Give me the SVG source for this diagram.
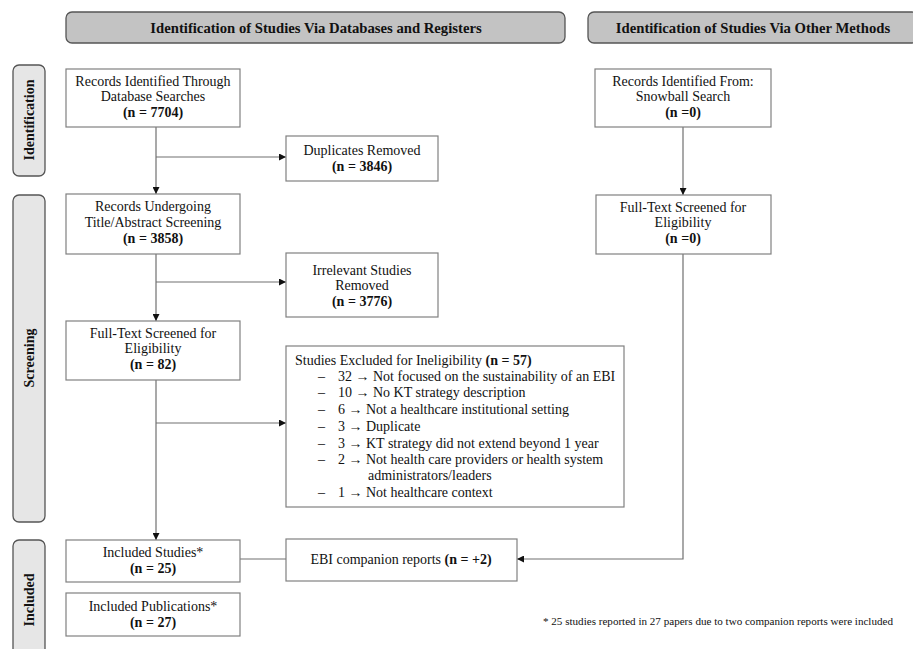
<svg xmlns="http://www.w3.org/2000/svg" width="913" height="649" viewBox="0 0 913 649">
<style>
text{font-family:"Liberation Serif","Times New Roman",serif;fill:#111;font-size:14px}
.b{font-weight:bold}
.c{text-anchor:middle}
.h{font-size:14.7px}
.box{fill:#fff;stroke:#808080;stroke-width:1.2}
.hdr{fill:#c3c3c3;stroke:#555;stroke-width:1.3}
.side{fill:#e6e6e6;stroke:#555;stroke-width:1.3}
.ln{fill:none;stroke:#707070;stroke-width:1.2}
</style>
<defs>
<marker id="ah" viewBox="0 0 10 10" refX="10" refY="5" markerWidth="7" markerHeight="7" markerUnits="userSpaceOnUse" orient="auto">
<path d="M0,0 L10,5 L0,10 Z" fill="#111"/>
</marker>
</defs>
<rect width="913" height="649" fill="#fff"/>

<g id="header-db"><rect class="hdr" x="66" y="12" width="499" height="31" rx="6"/><text class="b c h" x="316" y="33">Identification of Studies Via Databases and Registers</text></g>
<g id="header-other"><rect class="hdr" x="588" y="12" width="330" height="31" rx="6"/><text class="b c h" x="753" y="33">Identification of Studies Via Other Methods</text></g>

<g id="side-identification"><rect class="side" x="13" y="65" width="32" height="111" rx="6"/><text class="b c" transform="translate(34,120) rotate(-90)">Identification</text></g>
<g id="side-screening"><rect class="side" x="13" y="195" width="32" height="327" rx="6"/><text class="b c" transform="translate(34,358) rotate(-90)">Screening</text></g>
<g id="side-included"><rect class="side" x="13" y="540" width="32" height="125" rx="6"/><text class="b c" transform="translate(34,600) rotate(-90)">Included</text></g>

<g id="connectors">
<path class="ln" d="M156,127 V194" marker-end="url(#ah)"/>
<path class="ln" d="M156,157 H286" marker-end="url(#ah)"/>
<path class="ln" d="M156,254 V321" marker-end="url(#ah)"/>
<path class="ln" d="M156,282 H286" marker-end="url(#ah)"/>
<path class="ln" d="M156,380 V540" marker-end="url(#ah)"/>
<path class="ln" d="M156,423 H286" marker-end="url(#ah)"/>
<path class="ln" d="M240,559 H286"/>
<path class="ln" d="M683,127 V195" marker-end="url(#ah)"/>
<path class="ln" d="M683,254 V559 H517" marker-end="url(#ah)"/>
</g>

<g id="records-db"><rect class="box" x="66" y="69" width="174" height="58"/>
<text class="c" x="153" y="86">Records Identified Through</text>
<text class="c" x="153" y="101">Database Searches</text>
<text class="b c" x="153" y="117">(n = 7704)</text></g>

<g id="duplicates"><rect class="box" x="286" y="136" width="152" height="45"/>
<text class="c" x="362" y="155">Duplicates Removed</text>
<text class="b c" x="362" y="171">(n = 3846)</text></g>

<g id="title-abstract"><rect class="box" x="66" y="194" width="174" height="60"/>
<text class="c" x="153" y="211">Records Undergoing</text>
<text class="c" x="153" y="227">Title/Abstract Screening</text>
<text class="b c" x="153" y="243">(n = 3858)</text></g>

<g id="irrelevant"><rect class="box" x="286" y="253" width="152" height="64"/>
<text class="c" x="362" y="275">Irrelevant Studies</text>
<text class="c" x="362" y="290">Removed</text>
<text class="b c" x="362" y="306">(n = 3776)</text></g>

<g id="fulltext-db"><rect class="box" x="66" y="321" width="174" height="59"/>
<text class="c" x="153" y="338">Full-Text Screened for</text>
<text class="c" x="153" y="353">Eligibility</text>
<text class="b c" x="153" y="369">(n = 82)</text></g>

<g id="excluded"><rect class="box" x="286" y="346" width="338" height="161"/>
<text x="295" y="365">Studies Excluded for Ineligibility  <tspan class="b">(n = 57)</tspan></text>
<text x="318" y="381">–</text><text x="338" y="381">32 → Not focused on the sustainability of an EBI</text>
<text x="318" y="397">–</text><text x="338" y="397">10 → No KT strategy description</text>
<text x="318" y="414">–</text><text x="338" y="414">6 → Not a healthcare institutional setting</text>
<text x="318" y="431">–</text><text x="338" y="431">3 → Duplicate</text>
<text x="318" y="448">–</text><text x="338" y="448">3 → KT strategy did not extend beyond 1 year</text>
<text x="318" y="464">–</text><text x="338" y="464">2 →  Not health care providers or health system</text>
<text x="368" y="480">administrators/leaders</text>
<text x="318" y="497">–</text><text x="338" y="497">1 →  Not healthcare context</text></g>

<g id="snowball"><rect class="box" x="595" y="69" width="176" height="58"/>
<text class="c" x="683" y="86">Records Identified From:</text>
<text class="c" x="683" y="101">Snowball Search</text>
<text class="b c" x="683" y="117">(n =0)</text></g>

<g id="fulltext-other"><rect class="box" x="596" y="195" width="175" height="59"/>
<text class="c" x="683" y="212">Full-Text Screened for</text>
<text class="c" x="683" y="227">Eligibility</text>
<text class="b c" x="683" y="243">(n =0)</text></g>

<g id="included-studies"><rect class="box" x="66" y="540" width="174" height="42"/>
<text class="c" x="153" y="557">Included Studies*</text>
<text class="b c" x="153" y="573">(n = 25)</text></g>

<g id="included-publications"><rect class="box" x="66" y="593" width="174" height="43"/>
<text class="c" x="153" y="611">Included Publications*</text>
<text class="b c" x="153" y="627">(n = 27)</text></g>

<g id="companion"><rect class="box" x="286" y="539" width="231" height="42"/>
<text class="c" x="401" y="564">EBI companion reports <tspan class="b">(n = +2)</tspan></text></g>

<text id="footnote" x="543" y="625" style="font-size:11px" textLength="350" lengthAdjust="spacingAndGlyphs">* 25 studies reported in 27 papers due to two companion reports were included</text>
</svg>
